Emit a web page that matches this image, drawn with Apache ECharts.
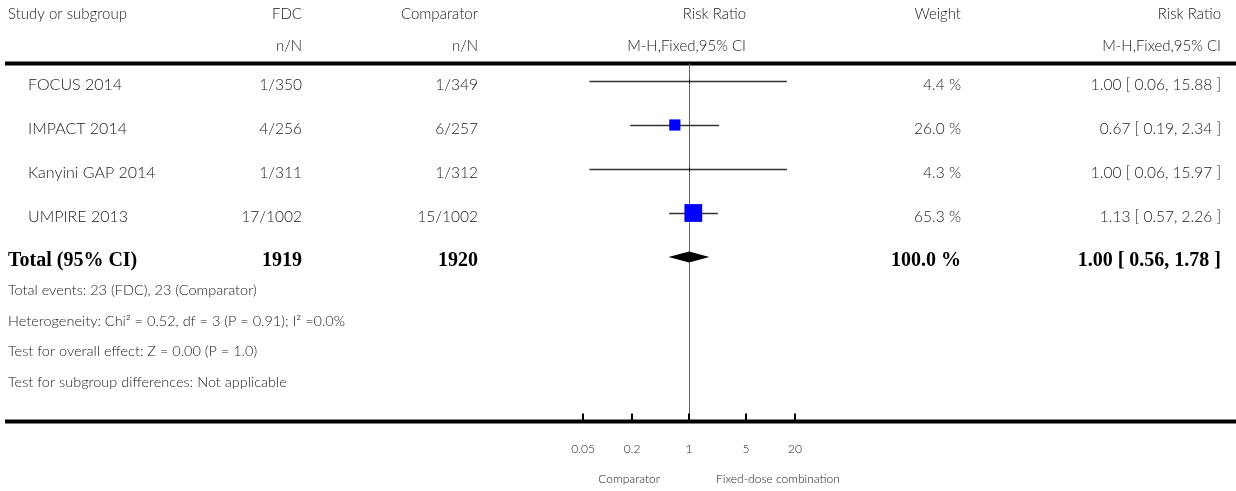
<!DOCTYPE html>
<html>
<head>
<meta charset="utf-8">
<script src="https://cdn.jsdelivr.net/npm/echarts@6/dist/echarts.min.js"></script>
<style>
html,body{margin:0;padding:0;background:#fff;}
#chart{width:1236px;height:491px;}
</style>
</head>
<body>
<div id="chart"></div>
<script>
// ---------- data ----------
const studies = ['FOCUS 2014', 'IMPACT 2014', 'Kanyini GAP 2014', 'UMPIRE 2013'];
const fdcNN = ['1/350', '4/256', '1/311', '17/1002'];
const compNN = ['1/349', '6/257', '1/312', '15/1002'];
const weights = [4.4, 26.0, 4.3, 65.3];
const rr = [1.00, 0.67, 1.00, 1.13];
const ciLow = [0.06, 0.19, 0.06, 0.57];
const ciHigh = [15.88, 2.34, 15.97, 2.26];

const totalLabel = 'Total (95% CI)';
const totalFdc = '1919';
const totalComp = '1920';
const totalWeight = 100.0;
const totalRR = 1.00;
const totalLow = 0.56;
const totalHigh = 1.78;

const tickValues = [0.05, 0.2, 1, 5, 20];
const tickLabels = ['0.05', '0.2', '1', '5', '20'];

const headers1 = ['Study or subgroup', 'FDC', 'Comparator', 'Risk Ratio', 'Weight', 'Risk Ratio'];
const headers2 = ['', 'n/N', 'n/N', 'M-H,Fixed,95% CI', '', 'M-H,Fixed,95% CI'];
const footer = [
  'Total events: 23 (FDC), 23 (Comparator)',
  'Heterogeneity: Chi\u00B2 = 0.52, df = 3 (P = 0.91); I\u00B2 =0.0%',
  'Test for overall effect: Z = 0.00 (P = 1.0)',
  'Test for subgroup differences: Not applicable'
];
const leftLabel = 'Comparator';
const rightLabel = 'Fixed-dose combination';

// ---------- layout ----------
const FONT = 'Lato, "Open Sans", sans-serif';
const SERIF = '"Liberation Serif", "DejaVu Serif", serif';
const TXT = '#1a1a1a';
const W = '300 ';
const colLeftX = 8, colStudyX = 28, colFdcX = 302, colCompX = 478, colMidX = 746, colWX = 961, colRRX = 1221;
const topLineY = 63.5, axisLineY = 421.5;
const textDy = 4;
const ROWF = W + '15.5px ' + FONT;

function fmt2(v){ return v.toFixed(2); }

const chart = echarts.init(document.getElementById('chart'), null, {renderer: 'canvas'});

function txt(x, y, s, align, opt){
  return {
    type: 'text', x: x, y: y, silent: true,
    style: Object.assign({text: s, align: align, verticalAlign: 'middle', font: W + '15px ' + FONT, fill: TXT}, opt || {})
  };
}

const graphic = [];
// header
const h1y = 14, h2y = 46;
graphic.push(txt(colLeftX, h1y, headers1[0], 'left'));
graphic.push(txt(colFdcX, h1y, headers1[1], 'right'));
graphic.push(txt(colCompX, h1y, headers1[2], 'right'));
graphic.push(txt(colMidX, h1y, headers1[3], 'right'));
graphic.push(txt(colWX, h1y, headers1[4], 'right'));
graphic.push(txt(colRRX, h1y, headers1[5], 'right'));
graphic.push(txt(colFdcX, h2y, headers2[1], 'right'));
graphic.push(txt(colCompX, h2y, headers2[2], 'right'));
graphic.push(txt(colMidX, h2y, headers2[3], 'right'));
graphic.push(txt(colRRX, h2y, headers2[5], 'right'));
// rules
graphic.push({type: 'line', silent: true, shape: {x1: 5, y1: topLineY, x2: 1236, y2: topLineY}, style: {stroke: '#000', lineWidth: 4}});
graphic.push({type: 'line', silent: true, shape: {x1: 5, y1: axisLineY, x2: 1236, y2: axisLineY}, style: {stroke: '#000', lineWidth: 4}});
// footer
const footerY = [290, 321, 351, 382];
footer.forEach((s, i) => graphic.push(txt(colLeftX, footerY[i], s, 'left', {font: W + '14.5px ' + FONT})));

const studyData = studies.map((s, i) => [rr[i], i, ciLow[i], ciHigh[i], weights[i]]);

const option = {
  animation: false,
  backgroundColor: '#fff',
  grid: {left: 526, width: 326, top: 59, height: 374, containLabel: false},
  xAxis: {type: 'log', logBase: 10, min: 0.01, max: 100, show: false},
  yAxis: {type: 'value', min: -0.5, max: 8, inverse: true, show: false},
  graphic: graphic,
  series: [
    { // line of no effect
      type: 'custom', clip: false, z: 1,
      data: [[1, 0]],
      renderItem: function(params, api){
        const x = Math.round(api.coord([api.value(0), 0])[0]) + 0.5;
        return {type: 'line', shape: {x1: x, y1: topLineY, x2: x, y2: axisLineY}, style: {stroke: '#666', lineWidth: 1}};
      }
    },
    { // studies
      type: 'custom', clip: false, z: 3,
      encode: {x: [0, 2, 3], y: 1},
      data: studyData,
      renderItem: function(params, api){
        const i = params.dataIndex;
        const row = api.value(1);
        const p = api.coord([api.value(0), row]);
        const lo = api.coord([api.value(2), row]);
        const hi = api.coord([api.value(3), row]);
        const y = Math.round(p[1]) + 0.5;
        const side = 2.2 * Math.sqrt(api.value(4));
        const ch = [];
        ch.push({type: 'line', shape: {x1: lo[0], y1: y, x2: hi[0], y2: y}, style: {stroke: '#333', lineWidth: 1.3}});
        if (side > 6) {
          ch.push({type: 'rect', shape: {x: p[0] - side/2, y: p[1] - side/2, width: side, height: side}, style: {fill: '#0000ff'}});
        }
        ch.push({type: 'line', shape: {x1: Math.round(p[0]) + 0.5, y1: y - 2, x2: Math.round(p[0]) + 0.5, y2: y + 2}, style: {stroke: '#000', lineWidth: 1}});
        const ty = p[1] + textDy;
        const rf = {font: ROWF};
        ch.push(txt(colStudyX, ty, studies[i], 'left', {font: W + '16px ' + FONT}));
        ch.push(txt(colFdcX, ty, fdcNN[i], 'right', rf));
        ch.push(txt(colCompX, ty, compNN[i], 'right', rf));
        ch.push(txt(colWX, ty, api.value(4).toFixed(1) + ' %', 'right', rf));
        ch.push(txt(colRRX, ty, fmt2(api.value(0)) + ' [ ' + fmt2(api.value(2)) + ', ' + fmt2(api.value(3)) + ' ]', 'right', rf));
        return {type: 'group', children: ch};
      }
    },
    { // total
      type: 'custom', clip: false, z: 3,
      encode: {x: [0, 2, 3], y: 1},
      data: [[totalRR, 4, totalLow, totalHigh, totalWeight]],
      renderItem: function(params, api){
        const row = api.value(1);
        const p = api.coord([api.value(0), row]);
        const lo = api.coord([api.value(2), row]);
        const hi = api.coord([api.value(3), row]);
        const h = 5.5;
        const bold = {font: 'bold 20px ' + SERIF, fill: '#000'};
        const ty = p[1] + textDy;
        return {type: 'group', children: [
          {type: 'polygon', shape: {points: [[lo[0], p[1]], [p[0], p[1] - h], [hi[0], p[1]], [p[0], p[1] + h]]}, style: {fill: '#000'}},
          txt(colLeftX, ty, totalLabel, 'left', bold),
          txt(colFdcX, ty, totalFdc, 'right', bold),
          txt(colCompX, ty, totalComp, 'right', bold),
          txt(colWX, ty, api.value(4).toFixed(1) + ' %', 'right', bold),
          txt(colRRX, ty, fmt2(api.value(0)) + ' [ ' + fmt2(api.value(2)) + ', ' + fmt2(api.value(3)) + ' ]', 'right', bold)
        ]};
      }
    },
    { // axis ticks and labels
      type: 'custom', clip: false, z: 4,
      data: tickValues.map((v, i) => [v, 0, i]),
      renderItem: function(params, api){
        const x = Math.round(api.coord([api.value(0), 0])[0]);
        const i = api.value(2);
        return {type: 'group', children: [
          {type: 'line', shape: {x1: x, y1: axisLineY - 8, x2: x, y2: axisLineY}, style: {stroke: '#000', lineWidth: 2}},
          txt(x, 449, tickLabels[i], 'center', {font: W + '12px ' + FONT})
        ]};
      }
    },
    { // axis direction labels
      type: 'custom', clip: false, z: 4,
      data: [[1, 0]],
      renderItem: function(params, api){
        const x = api.coord([api.value(0), 0])[0];
        return {type: 'group', children: [
          txt(x - 29, 479, leftLabel, 'right', {font: W + '12px ' + FONT}),
          txt(x + 27, 479, rightLabel, 'left', {font: W + '12px ' + FONT})
        ]};
      }
    }
  ]
};
chart.setOption(option);
</script>
</body>
</html>
